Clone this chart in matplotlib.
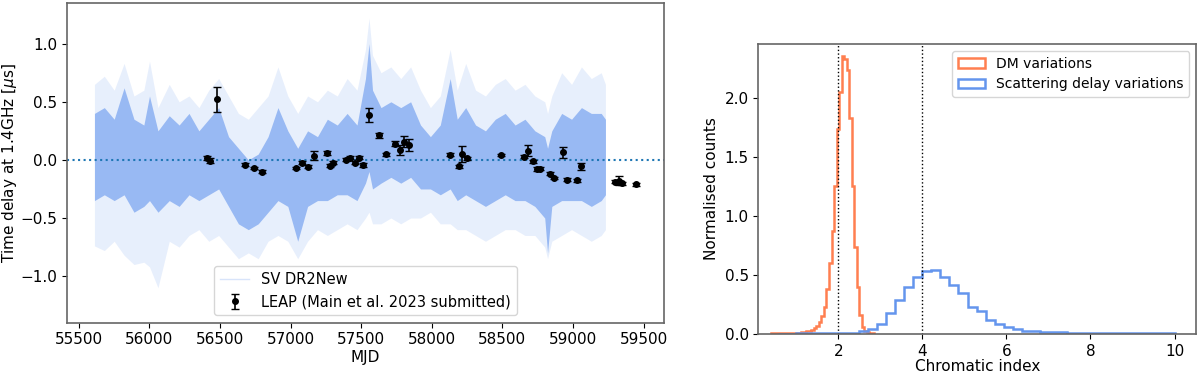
import numpy as np
import matplotlib
matplotlib.use("Agg")
import matplotlib.pyplot as plt

# ---- left panel: SV DR2New realisation band (envelopes) ----
band_mjd = [55610, 55680, 55750, 55820, 55890, 55960, 56000, 56060, 56140, 56210,
            56280, 56350, 56420, 56490, 56560, 56630, 56700, 56770, 56840, 56910,
            56980, 57050, 57120, 57190, 57260, 57330, 57400, 57470, 57530, 57555,
            57580, 57640, 57710, 57780, 57850, 57920, 57990, 58060, 58130, 58180,
            58240, 58310, 58380, 58450, 58520, 58590, 58660, 58730, 58800, 58820,
            58850, 58920, 58990, 59060, 59130, 59200, 59230]
band_hi_out = [0.65, 0.72, 0.60, 0.83, 0.55, 0.60, 0.85, 0.45, 0.65, 0.50,
               0.55, 0.45, 0.60, 0.70, 0.55, 0.40, 0.35, 0.45, 0.55, 0.80,
               0.55, 0.40, 0.55, 0.50, 0.60, 0.55, 0.70, 0.60, 0.95, 1.22,
               0.90, 0.75, 0.80, 0.70, 0.80, 0.60, 0.45, 0.55, 0.95, 0.60,
               0.83, 0.60, 0.55, 0.65, 0.70, 0.60, 0.65, 0.55, 0.50, 0.40,
               0.55, 0.75, 0.65, 0.80, 0.70, 0.75, 0.65]
band_lo_out = [-0.74, -0.78, -0.70, -0.82, -0.90, -0.88, -0.92, -1.10, -0.70, -0.75,
               -0.65, -0.60, -0.70, -0.65, -0.75, -0.85, -0.80, -0.85, -0.70, -0.65,
               -0.70, -0.85, -0.70, -0.60, -0.65, -0.60, -0.55, -0.60, -0.50, -0.45,
               -0.55, -0.55, -0.50, -0.55, -0.50, -0.50, -0.45, -0.55, -0.55, -0.60,
               -0.60, -0.65, -0.70, -0.65, -0.60, -0.60, -0.65, -0.65, -0.75, -0.85,
               -0.70, -0.65, -0.60, -0.65, -0.70, -0.65, -0.60]
band_hi_in = [0.40, 0.45, 0.35, 0.62, 0.35, 0.30, 0.55, 0.25, 0.38, 0.30,
              0.40, 0.25, 0.35, 0.45, 0.20, 0.10, 0.00, 0.05, 0.20, 0.45,
              0.25, 0.10, 0.25, 0.20, 0.35, 0.30, 0.40, 0.30, 0.70, 1.00,
              0.60, 0.45, 0.50, 0.45, 0.50, 0.30, 0.20, 0.30, 0.70, 0.35,
              0.45, 0.30, 0.25, 0.35, 0.40, 0.30, 0.35, 0.25, 0.20, 0.10,
              0.25, 0.40, 0.35, 0.45, 0.40, 0.40, 0.35]
band_lo_in = [-0.35, -0.30, -0.35, -0.30, -0.45, -0.40, -0.35, -0.45, -0.35, -0.40,
              -0.30, -0.35, -0.30, -0.25, -0.40, -0.55, -0.60, -0.55, -0.45, -0.35,
              -0.40, -0.70, -0.40, -0.35, -0.35, -0.30, -0.30, -0.35, -0.20, -0.10,
              -0.25, -0.20, -0.15, -0.20, -0.15, -0.25, -0.25, -0.30, -0.25, -0.35,
              -0.30, -0.35, -0.40, -0.35, -0.30, -0.35, -0.35, -0.40, -0.50, -0.80,
              -0.40, -0.35, -0.35, -0.35, -0.40, -0.35, -0.30]

# ---- left panel: LEAP measurements ----
leap_mjd = [56408, 56432, 56475, 56680, 56739, 56796, 57041, 57077, 57126, 57164,
            57261, 57279, 57303, 57390, 57423, 57456, 57487, 57511, 57555, 57626,
            57674, 57737, 57778, 57801, 57836, 58129, 58192, 58216, 58249, 58492,
            58650, 58684, 58716, 58745, 58769, 58835, 58868, 58932, 58955, 59026,
            59059, 59300, 59323, 59346, 59448]
leap_val = [0.017, -0.006, 0.52, -0.04, -0.07, -0.10, -0.07, -0.023, -0.058, 0.037,
            0.06, -0.05, -0.023, 0.003, 0.02, -0.023, 0.02, -0.043, 0.39, 0.21,
            0.048, 0.14, 0.086, 0.157, 0.13, 0.046, -0.055, 0.05, 0.014, 0.043,
            0.028, 0.08, -0.012, -0.077, -0.077, -0.12, -0.155, 0.065, -0.17, -0.175,
            -0.055, -0.187, -0.18, -0.20, -0.21]
leap_err = [0.015, 0.02, 0.11, 0.012, 0.012, 0.012, 0.012, 0.012, 0.012, 0.04,
            0.015, 0.015, 0.015, 0.012, 0.012, 0.012, 0.012, 0.015, 0.06, 0.02,
            0.012, 0.02, 0.04, 0.05, 0.05, 0.015, 0.015, 0.07, 0.012, 0.012,
            0.015, 0.05, 0.012, 0.015, 0.012, 0.012, 0.012, 0.045, 0.012, 0.012,
            0.03, 0.015, 0.04, 0.012, 0.012]

# ---- right panel: chromatic index histograms ----
dm_edges = np.round(np.arange(0.40, 2.90, 0.06), 2)
dm_counts = [0.003, 0.003, 0.003, 0.003, 0.003, 0.004, 0.004, 0.005, 0.005, 0.006,
             0.007, 0.009, 0.012, 0.015, 0.02, 0.025, 0.035, 0.05, 0.07, 0.10,
             0.15, 0.23, 0.38, 0.60, 0.87, 1.25, 1.74, 2.05, 2.36, 2.33,
             2.24, 1.83, 1.25, 0.74, 0.40, 0.16, 0.055, 0.025, 0.012, 0.006,
             0.004]
sc_edges = np.round(np.linspace(0.56, 10.02, 45), 3)
sc_counts = [0.002, 0.002, 0.003, 0.003, 0.003, 0.004, 0.004, 0.005, 0.01, 0.02,
             0.04, 0.08, 0.18, 0.29, 0.40, 0.48, 0.535, 0.54, 0.48, 0.415,
             0.345, 0.23, 0.195, 0.12, 0.085, 0.057, 0.04, 0.028, 0.02, 0.016,
             0.014, 0.012, 0.01, 0.009, 0.008, 0.008, 0.007, 0.007, 0.006, 0.006,
             0.006, 0.005, 0.005, 0.005]

blue = "cornflowerblue"
orange = "coral"

fig = plt.figure(figsize=(12, 3.73), dpi=100)
ax1 = fig.add_axes([0.056, 0.135, 0.497, 0.857])
ax2 = fig.add_axes([0.632, 0.105, 0.365, 0.777])

ax1.fill_between(band_mjd, band_lo_out, band_hi_out, color=blue, alpha=0.15, lw=0)
ax1.fill_between(band_mjd, band_lo_in, band_hi_in, color=blue, alpha=0.6, lw=0)
ax1.plot([], [], color=blue, alpha=0.25, lw=1, label="SV DR2New")
ax1.axhline(0, color="C0", ls=":", lw=1.5)
ax1.errorbar(leap_mjd, leap_val, yerr=leap_err, fmt="o", color="k", ms=4,
             capsize=3, elinewidth=1.2, label="LEAP (Main et al. 2023 submitted)")
ax1.set_xlim(55417, 59642)
ax1.set_ylim(-1.40, 1.35)
ax1.set_xticks([55500, 56000, 56500, 57000, 57500, 58000, 58500, 59000, 59500])
ax1.set_yticks([-1.0, -0.5, 0.0, 0.5, 1.0])
ax1.set_xlabel("MJD", fontsize=11, labelpad=2)
ax1.set_ylabel(r"Time delay at 1.4GHz [$\mu$s]", fontsize=11, labelpad=1)
ax1.legend(loc="lower center", fontsize=10.5)

ax2.hist(dm_edges[:-1], bins=dm_edges, weights=dm_counts, histtype="step",
         color=orange, lw=1.8, label="DM variations")
ax2.hist(sc_edges[:-1], bins=sc_edges, weights=sc_counts, histtype="step",
         color=blue, lw=1.8, label="Scattering delay variations")
ax2.axvline(2, color="k", ls=":", lw=1)
ax2.axvline(4, color="k", ls=":", lw=1)
ax2.set_xlim(0.1, 10.52)
ax2.set_ylim(0, 2.458)
ax2.set_xticks([2, 4, 6, 8, 10])
ax2.set_yticks([0.0, 0.5, 1.0, 1.5, 2.0])
ax2.set_xlabel("Chromatic index", fontsize=11, labelpad=0)
ax2.set_ylabel("Normalised counts", fontsize=11)
ax2.legend(loc="upper right", fontsize=10)

for ax in (ax1, ax2):
    ax.tick_params(labelsize=11)
    for s in ax.spines.values():
        s.set_color("0.4")
        s.set_linewidth(1.2)

fig.savefig("out.png", dpi=100)
